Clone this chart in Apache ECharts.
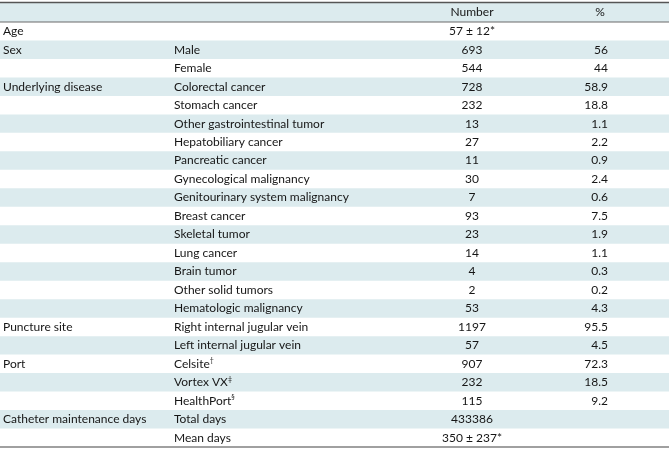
<!DOCTYPE html>
<html>
<head>
<meta charset="utf-8">
<script src="https://cdn.jsdelivr.net/npm/echarts@6/dist/echarts.min.js"></script>
<style>html,body{margin:0;padding:0;background:#fff;}#c{width:669px;height:451px;}</style>
</head>
<body>
<div id="c"></div>
<script>
const headers = ['', '', 'Number', '%'];
const groups = ['Age', 'Sex', '', 'Underlying disease', '', '', '', '', '', '', '', '', '', '', '', '',
  'Puncture site', '', 'Port', '', '', 'Catheter maintenance days', ''];
const items = ['', 'Male', 'Female', 'Colorectal cancer', 'Stomach cancer', 'Other gastrointestinal tumor',
  'Hepatobiliary cancer', 'Pancreatic cancer', 'Gynecological malignancy', 'Genitourinary system malignancy',
  'Breast cancer', 'Skeletal tumor', 'Lung cancer', 'Brain tumor', 'Other solid tumors', 'Hematologic malignancy',
  'Right internal jugular vein', 'Left internal jugular vein', 'Celsite{sup|†}', 'Vortex VX{sup|‡}',
  'HealthPort{sup|§}', 'Total days', 'Mean days'];
const numbers = ['57 ± 12*', '693', '544', '728', '232', '13', '27', '11', '30', '7', '93', '23', '14', '4', '2',
  '53', '1197', '57', '907', '232', '115', '433386', '350 ± 237*'];
const percents = ['', '56', '44', '58.9', '18.8', '1.1', '2.2', '0.9', '2.4', '0.6', '7.5', '1.9', '1.1', '0.3',
  '0.2', '4.3', '95.5', '4.5', '72.3', '18.5', '9.2', '', ''];

const FONT = 'Lato';
const FS = 12;
const TXT = '#161616';
const STRIPE = '#dcebee';
const COLX = { group: 3, item: 174, num: 472, pct: 608, pctHead: 600 };
const HEAD_H = 20;

const rows = items.map((_, i) => i);
const chart = echarts.init(document.getElementById('c'), null, { renderer: 'canvas' });

function txt(x, y, s, align) {
  return {
    type: 'text',
    style: {
      x: x, y: y, text: s, fill: TXT, font: FS + 'px ' + FONT, align: align, verticalAlign: 'middle',
      rich: { sup: { fontSize: 7, fontFamily: FONT, fill: TXT, verticalAlign: 'top', padding: [0, 0, 6, 0] } }
    }
  };
}

chart.setOption({
  animation: false,
  grid: { left: 0, right: 0, top: 22, bottom: 4 },
  xAxis: { type: 'value', min: 0, max: 669, show: false },
  yAxis: { type: 'category', data: rows, inverse: true, show: false },
  series: [{
    type: 'custom',
    data: rows.map(i => [0, i]),
    renderItem: function (params, api) {
      const i = api.value(1);
      const c = api.coord([0, i]);
      const h = api.size([0, 1])[1];
      const cy = c[1];
      const top = cy - h / 2;
      const x = v => api.coord([v, i])[0];
      const W = params.coordSys.width;
      const L = params.coordSys.x;
      const children = [];
      if (i % 2 === 1) {
        children.push({ type: 'rect', shape: { x: L, y: top, width: W, height: h }, style: { fill: STRIPE } });
      }
      if (i === 0) {
        children.push({ type: 'rect', shape: { x: L, y: top - HEAD_H, width: W, height: HEAD_H }, style: { fill: STRIPE } });
        children.push({ type: 'line', shape: { x1: L, y1: top - HEAD_H + 0.5, x2: L + W, y2: top - HEAD_H + 0.5 }, style: { stroke: '#555', lineWidth: 1.5 } });
        children.push({ type: 'line', shape: { x1: L, y1: top, x2: L + W, y2: top }, style: { stroke: '#6a6a6a', lineWidth: 1.2 } });
        children.push(txt(x(COLX.num), top - HEAD_H / 2, headers[2], 'center'));
        children.push(txt(x(COLX.pctHead), top - HEAD_H / 2, headers[3], 'center'));
      }
      if (i === items.length - 1) {
        children.push({ type: 'line', shape: { x1: L, y1: top + h, x2: L + W, y2: top + h }, style: { stroke: '#808080', lineWidth: 1.5 } });
      }
      children.push(txt(x(COLX.group), cy, groups[i], 'left'));
      children.push(txt(x(COLX.item), cy, items[i], 'left'));
      children.push(txt(x(COLX.num), cy, numbers[i], 'center'));
      children.push(txt(x(COLX.pct), cy, percents[i], 'right'));
      return { type: 'group', children: children };
    }
  }]
});
</script>
</body>
</html>
